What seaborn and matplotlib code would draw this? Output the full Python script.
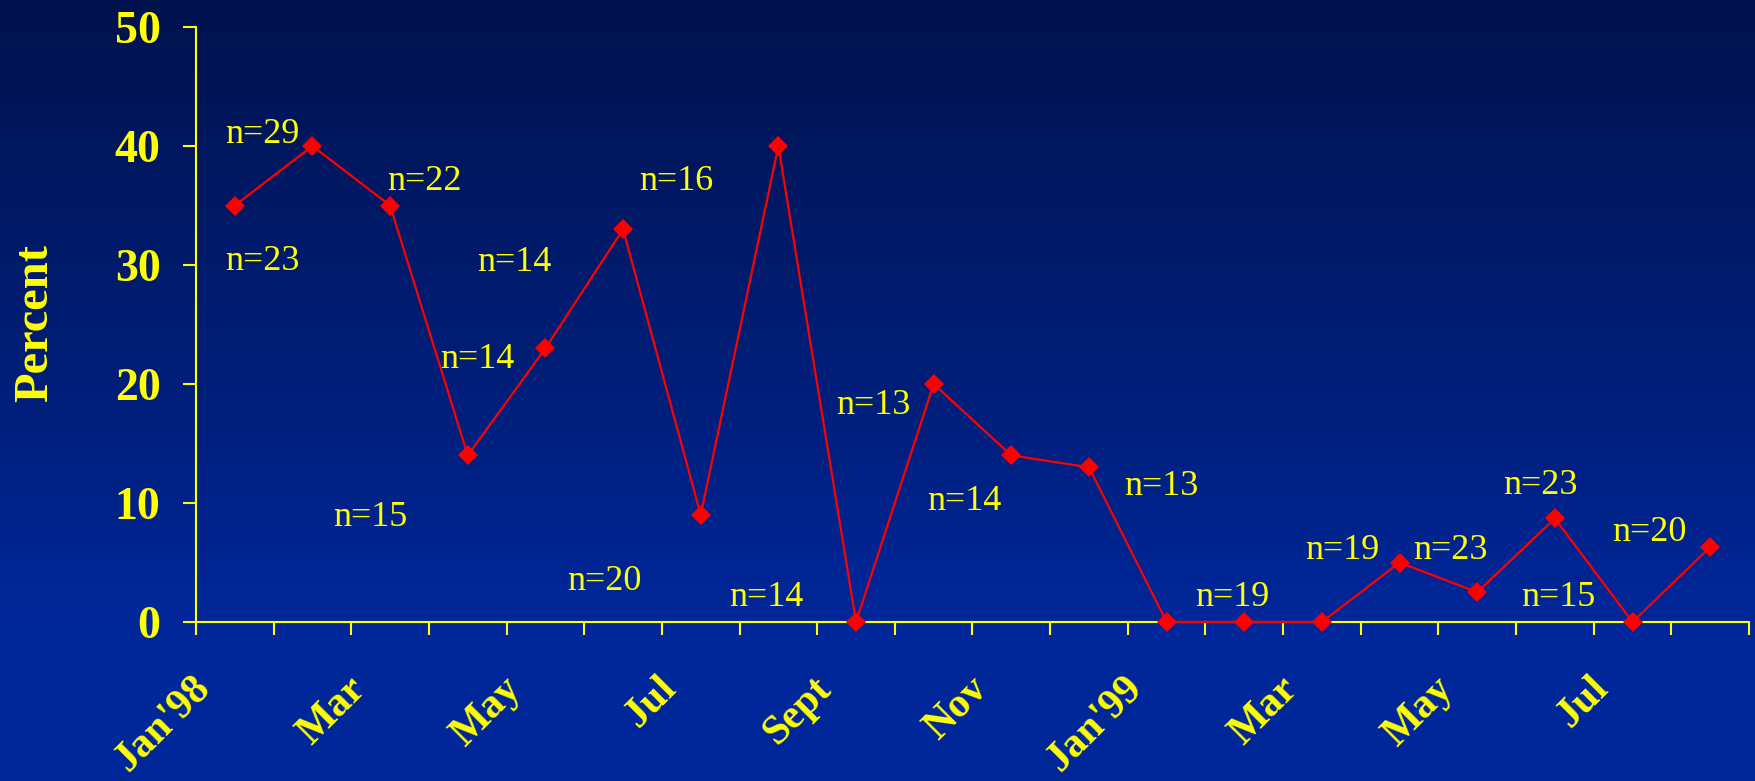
import numpy as np
import pandas as pd
import matplotlib
matplotlib.use("Agg")
import matplotlib.pyplot as plt
import seaborn as sns
from matplotlib.colors import LinearSegmentedColormap
from matplotlib.transforms import ScaledTranslation

# ---------------- data ----------------
months = ["Jan'98", "Feb", "Mar", "Apr", "May", "Jun", "Jul", "Aug", "Sept", "Oct",
          "Nov", "Dec", "Jan'99", "Feb", "Mar", "Apr", "May", "Jun", "Jul", "Aug"]
percent = [35, 40, 35, 14, 23, 33, 9, 40, 0, 20, 14, 13, 0, 0, 0, 5, 2.5, 8.7, 0, 6.3]
tick_labels = ["Jan'98", "", "Mar", "", "May", "", "Jul", "", "Sept", "", "Nov", "",
               "Jan'99", "", "Mar", "", "May", "", "Jul", "", ""]
y_ticks = [0, 10, 20, 30, 40, 50]

n_text = ["n=29", "n=23", "n=15", "n=22", "n=14", "n=14", "n=20", "n=16", "n=14",
          "n=13", "n=14", "n=13", "n=19", "n=19", "n=23", "n=23", "n=15", "n=20"]
n_x = [0.86, 0.85, 2.24, 2.94, 3.62, 4.10, 5.26, 6.19, 7.34,
       8.72, 9.89, 12.43, 13.35, 14.76, 16.15, 17.31, 17.54, 18.71]
n_y = [41.0, 30.3, 8.8, 37.0, 22.1, 30.2, 3.4, 37.0, 2.1,
       18.2, 10.1, 11.4, 2.1, 6.05, 6.05, 11.5, 2.1, 7.5]

YELLOW = "#FFFF00"
RED = "#FF0000"

df = pd.DataFrame({"pos": np.arange(len(percent)) + 0.5, "percent": percent, "month": months})

sns.set_theme(style="white")
plt.rcParams["font.family"] = ["Liberation Serif", "DejaVu Serif"]

fig = plt.figure(figsize=(17.56, 7.81), dpi=100)

# gradient background
bg = fig.add_axes([0, 0, 1, 1], zorder=-10)
cmap = LinearSegmentedColormap.from_list(
    "bg", [(0.0, "#00124E"), (0.5, "#001F7A"), (0.8, "#00279A"), (1.0, "#00289B")])
grad = np.linspace(0, 1, 256).reshape(-1, 1)
bg.imshow(grad, aspect="auto", cmap=cmap, extent=[0, 1, 1, 0])
bg.set_axis_off()

W, H = 1756, 781
ax = fig.add_axes([196 / W, 1 - 622 / H, 1553 / W, 595 / H])
ax.set_facecolor("none")

sns.lineplot(data=df, x="pos", y="percent", ax=ax, color=RED, linewidth=1.6,
             marker="D", markersize=10, markeredgewidth=0, markerfacecolor=RED,
             clip_on=False, zorder=5)

for t, x, y in zip(n_text, n_x, n_y):
    ax.text(x, y, t, color=YELLOW, fontsize=26, ha="center", va="center",
            family=["Liberation Serif"])

ax.set_xlim(0, 20)
ax.set_ylim(0, 50)
ax.set_xticks(np.arange(21))
ax.set_xticklabels(tick_labels, rotation=45, ha="right", va="baseline",
                   rotation_mode="anchor",
                   fontsize=30, fontweight="bold", color=YELLOW)
ax.set_yticks(y_ticks)
ax.set_yticklabels([str(v) for v in y_ticks], fontsize=33, fontweight="bold", color=YELLOW)

ax.tick_params(axis="x", direction="out", length=9.5, width=1.5, color=YELLOW, pad=39.5,
               bottom=True)
ax.tick_params(axis="y", direction="out", length=9.5, width=1.5, color=YELLOW, pad=16,
               left=True)
offset = ScaledTranslation(16 / 100, 0, fig.dpi_scale_trans)
for lab in ax.get_xticklabels():
    lab.set_transform(lab.get_transform() + offset)

for s in ["top", "right"]:
    ax.spines[s].set_visible(False)
for s in ["left", "bottom"]:
    ax.spines[s].set_color(YELLOW)
    ax.spines[s].set_linewidth(1.5)

ax.set_xlabel("")
ax.set_ylabel("Percent", fontsize=35, fontweight="bold", color=YELLOW, va="center")
ax.yaxis.set_label_coords((35 - 196) / 1553, (622 - 323) / 595)
ax.grid(False)

fig.savefig("out.png", dpi=100)
